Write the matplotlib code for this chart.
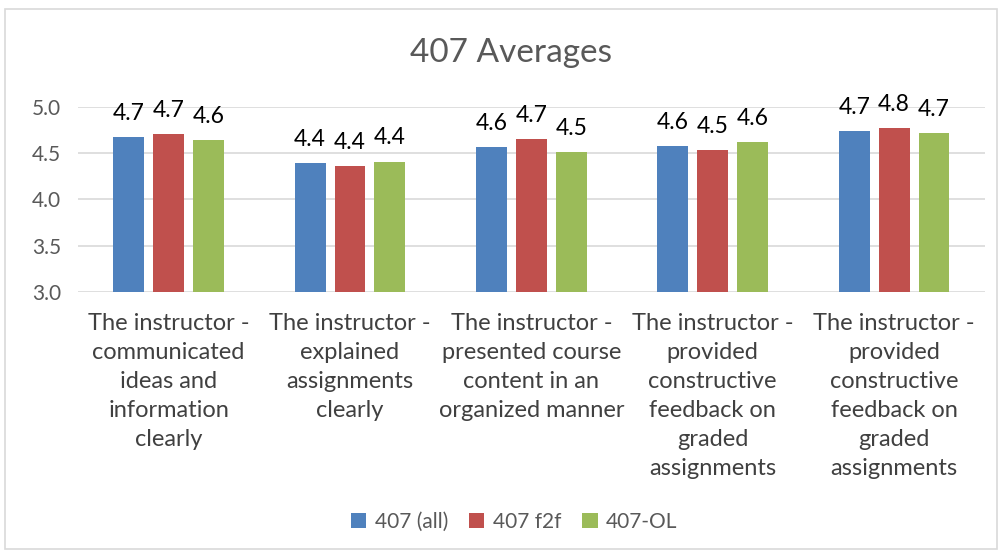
import matplotlib
matplotlib.use("Agg")
import matplotlib.pyplot as plt
from matplotlib.patches import Rectangle
import numpy as np

plt.rcParams['font.family'] = ['Lato', 'DejaVu Sans']

categories = [
    "The instructor -\ncommunicated\nideas and\ninformation\nclearly",
    "The instructor -\nexplained\nassignments\nclearly",
    "The instructor -\npresented course\ncontent in an\norganized manner",
    "The instructor -\nprovided\nconstructive\nfeedback on\ngraded\nassignments",
    "The instructor -\nprovided\nconstructive\nfeedback on\ngraded\nassignments",
]
series_names = ["407 (all)", "407 f2f", "407-OL"]
all_vals = [4.67, 4.39, 4.57, 4.58, 4.74]
f2f_vals = [4.71, 4.36, 4.65, 4.53, 4.77]
ol_vals = [4.64, 4.41, 4.51, 4.62, 4.72]
colors = ["#4f81bd", "#c0504d", "#9bbb59"]
yticks = [3.0, 3.5, 4.0, 4.5, 5.0]

fig = plt.figure(figsize=(10.02, 5.56), dpi=100)
ax = fig.add_axes([0.0778, 0.475, 0.905, 0.3326])

x = np.arange(len(categories))
width = 0.17
offsets = [-0.22, 0, 0.22]
for vals, off, c, name in zip([all_vals, f2f_vals, ol_vals], offsets, colors, series_names):
    ax.bar(x + off, np.array(vals) - 3.0, width, bottom=3.0, color=c,
           label=name, zorder=3)
    for xi, v in zip(x + off, vals):
        ax.annotate(f"{v:.1f}", (xi, v), xytext=(0, 17), textcoords="offset points",
                    ha="center", va="center", fontsize=16.5, color="black")

ax.set_ylim(3.0, 5.0)
ax.set_xlim(-0.5, len(categories) - 0.5)
ax.set_yticks(yticks)
ax.set_yticklabels([f"{t:.1f}" for t in yticks])
ax.yaxis.grid(True, color="#d9d9d9", linewidth=1.2, zorder=0)
ax.set_axisbelow(True)
for s in ax.spines.values():
    s.set_visible(False)
ax.tick_params(axis="y", length=0, labelsize=15, labelcolor="#595959", pad=12)
ax.tick_params(axis="x", length=0, labelsize=17, labelcolor="#404040", pad=15)
ax.set_xticks(x)
ax.set_xticklabels(categories, linespacing=1.47)

fig.text(0.51, 0.905, "407 Averages", ha="center", va="center", fontsize=24, color="#595959")

leg = fig.legend(loc="center", bbox_to_anchor=(0.513, 0.062), ncol=3, frameon=False,
                 fontsize=15, handlelength=0.75, handleheight=0.75, handletextpad=0.4,
                 columnspacing=1.0)
for t in leg.get_texts():
    t.set_color("#595959")

fig.patches.append(Rectangle((0.005, 0.012), 0.99, 0.972, transform=fig.transFigure,
                             fill=False, edgecolor="#d9d9d9", linewidth=1.2))

fig.savefig("out.png", dpi=100)
